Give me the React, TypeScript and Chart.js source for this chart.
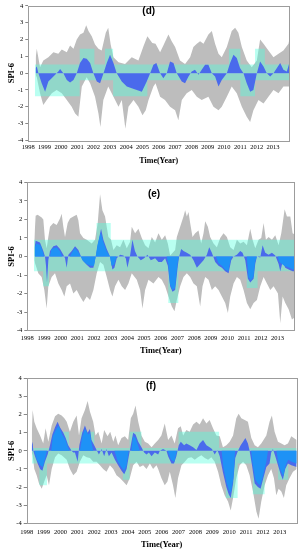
import React, { useEffect, useRef } from 'react';
import { Chart, registerables } from 'chart.js';

Chart.register(...registerables);

const SERIF = '"Liberation Serif", "Times New Roman", "DejaVu Serif", serif';
const SANS = '"Liberation Sans", Arial, sans-serif';

// x-axis tick labels (years) and y-axis ticks
const yearLabels = [1998, 1999, 2000, 2001, 2002, 2003, 2004, 2005, 2006, 2007, 2008, 2009, 2010, 2011, 2012, 2013];
const spiTicks = [-4, -3, -2, -1, 0, 1, 2, 3, 4];

type Pair = [number, number];
type Step = [number, number, number];

// ---------- panel (d) ----------
const dUpper: Pair[] = [
  [1998.45, 0.9], [1998.52, 1.45], [1998.72, 0.35], [1998.92, 0.75], [1999.23, 0.95], [1999.54, 1.25], [1999.84, 1.15],
  [2000.05, 1.4], [2000.36, 1.25], [2000.56, 1.65], [2000.77, 1.45], [2000.97, 2.0], [2001.17, 2.3], [2001.38, 2.4],
  [2001.55, 2.85], [2001.69, 2.5], [2001.89, 2.2], [2002.09, 1.7], [2002.3, 1.45], [2002.5, 1.35], [2002.75, 2.4],
  [2002.9, 2.7], [2003.05, 1.7], [2003.22, 0.95], [2003.53, 0.65], [2003.93, 0.55], [2004.34, 0.95], [2004.75, 0.75],
  [2005.06, 1.6], [2005.3, 2.2], [2005.6, 1.8], [2005.8, 1.75], [2006.08, 1.25], [2006.28, 1.65], [2006.59, 2.3],
  [2006.79, 1.9], [2007.0, 1.55], [2007.3, 0.75], [2007.61, 0.55], [2007.92, 0.95], [2008.12, 1.55], [2008.33, 1.75],
  [2008.53, 1.9], [2008.74, 1.75], [2009.04, 2.3], [2009.25, 2.5], [2009.45, 1.75], [2009.66, 1.15], [2009.86, 0.95],
  [2010.17, 1.55], [2010.47, 2.5], [2010.68, 2.7], [2010.88, 2.4], [2011.09, 1.55], [2011.39, 0.75], [2011.7, 0.35],
  [2012.01, 0.75], [2012.21, 2.0], [2012.42, 1.75], [2012.72, 1.35], [2013.03, 0.95], [2013.34, 1.15], [2013.64, 1.35],
  [2013.95, 1.75], [2014.0, 2.0],
];
const dLower: Pair[] = [
  [1998.45, -0.1], [1998.52, -0.25], [1998.72, -1.2], [1998.92, -1.9], [1999.13, -1.6], [1999.44, -1.2], [1999.74, -1.0],
  [2000.05, -1.2], [2000.36, -1.6], [2000.66, -2.0], [2000.87, -2.4], [2001.07, -2.6], [2001.28, -0.8], [2001.58, -0.25],
  [2001.79, -0.6], [2002.09, -1.4], [2002.3, -2.4], [2002.42, -3.2], [2002.6, -1.6], [2002.9, -0.8], [2003.22, -1.4],
  [2003.53, -2.0], [2003.73, -1.6], [2003.95, -3.3], [2004.14, -2.0], [2004.45, -1.6], [2004.75, -2.0], [2005.0, -2.5],
  [2005.2, -2.2], [2005.37, -1.6], [2005.67, -0.8], [2005.8, -0.6], [2006.08, -1.4], [2006.38, -1.6], [2006.69, -2.0],
  [2007.0, -2.2], [2007.2, -2.8], [2007.41, -1.6], [2007.71, -1.2], [2008.02, -1.0], [2008.33, -1.4], [2008.63, -1.6],
  [2009.04, -1.4], [2009.35, -2.0], [2009.66, -2.2], [2009.86, -2.0], [2010.17, -1.4], [2010.47, -0.8], [2010.78, -1.2],
  [2011.09, -2.0], [2011.39, -2.6], [2011.6, -2.9], [2011.8, -2.2], [2012.11, -1.6], [2012.42, -1.8], [2012.72, -1.4],
  [2013.03, -1.0], [2013.34, -1.2], [2013.64, -0.8], [2014.0, -0.8],
];
const dBlue: Pair[] = [
  [1998.45, 0.3], [1998.52, 0.4], [1998.62, 0], [1998.82, -0.6], [1999.03, -1.1], [1999.23, -0.5], [1999.54, -0.2],
  [1999.84, 0.1], [1999.95, 0.25], [2000.15, 0], [2000.36, -0.4], [2000.56, -0.55], [2000.77, -0.4], [2000.97, 0],
  [2001.17, 0.6], [2001.38, 0.9], [2001.58, 0.85], [2001.79, 0.6], [2001.99, 0], [2002.2, -0.5], [2002.4, -0.6],
  [2002.61, 0], [2002.81, 0.6], [2003.01, 1.1], [2003.22, 0.6], [2003.42, 0], [2003.73, -0.5], [2004.04, -0.8],
  [2004.34, -0.9], [2004.65, -1.0], [2004.96, -1.1], [2005.26, -0.5], [2005.47, 0], [2005.67, 0.5], [2005.85, 0.6],
  [2006.08, 0], [2006.28, -0.3], [2006.49, 0], [2006.69, 0.7], [2006.9, 0.6], [2007.1, 0], [2007.41, -0.5],
  [2007.61, -0.6], [2007.82, -0.2], [2008.02, 0.1], [2008.22, 0.2], [2008.43, -0.1], [2008.63, 0.2], [2008.84, 0.5],
  [2009.04, 0.5], [2009.25, 0], [2009.45, -0.2], [2009.66, -0.8], [2009.86, -0.4], [2010.17, 0], [2010.37, 0.6],
  [2010.58, 1.1], [2010.78, 0.9], [2010.98, 0.3], [2011.19, 0], [2011.39, -0.6], [2011.6, -1.1], [2011.8, -1.0],
  [2012.01, 0], [2012.21, 0.7], [2012.42, 0.4], [2012.62, 0], [2012.83, -0.2], [2013.03, 0], [2013.24, 0.3],
  [2013.44, 0.6], [2013.64, 0.2], [2013.85, 0.1], [2014.0, 0.6],
];
// [start year, band top, band bottom]
const dCyan: Step[] = [
  [1998.4, 0.52, -1.37], [2001.15, 1.45, -0.42], [2002.05, 0.52, -0.42], [2002.7, 1.45, -0.42], [2003.2, 0.52, -1.37],
  [2005.3, 0.52, -0.42], [2010.3, 1.45, -0.42], [2011.0, 0.52, -1.37], [2011.9, 1.45, -0.42], [2012.5, 0.52, -0.42],
  [2014.0, 0.52, -0.42],
];

// ---------- panel (e) ----------
const eUpper: Pair[] = [
  [1998.42, 0.9], [1998.5, 2.2], [1998.62, 2.25], [1998.86, 2.1], [1998.96, 2.0], [1999.06, 0.9], [1999.16, 0.45],
  [1999.26, 1.05], [1999.36, 1.6], [1999.56, 1.8], [1999.76, 1.7], [1999.96, 2.05], [2000.06, 2.3], [2000.16, 1.6],
  [2000.26, 1.05], [2000.42, 1.8], [2000.56, 2.05], [2000.76, 2.15], [2000.96, 2.25], [2001.06, 1.95], [2001.16, 1.25],
  [2001.36, 1.0], [2001.56, 0.9], [2001.86, 0.7], [2002.06, 0.9], [2002.22, 1.8], [2002.36, 3.35], [2002.5, 2.5],
  [2002.66, 2.15], [2002.86, 1.05], [2003.02, 0.9], [2003.16, 0.35], [2003.36, 0.6], [2003.56, 0.5], [2003.76, 0.9],
  [2003.96, 0.45], [2004.16, 0.8], [2004.26, 1.6], [2004.46, 1.25], [2004.66, 1.5], [2004.86, 1.0], [2005.06, 0.6],
  [2005.26, 0.45], [2005.46, 1.05], [2005.66, 0.75], [2005.86, 1.25], [2006.06, 0.9], [2006.26, 1.15], [2006.42, 0.7],
  [2006.56, 0.05], [2006.86, 0.35], [2006.96, 1.05], [2007.16, 1.6], [2007.36, 2.15], [2007.46, 2.5], [2007.56, 2.15],
  [2007.66, 2.4], [2007.76, 1.8], [2007.9, 1.05], [2008.06, 1.25], [2008.26, 1.4], [2008.42, 0.7], [2008.56, 1.25],
  [2008.66, 1.9], [2008.82, 1.6], [2008.96, 1.05], [2009.16, 0.7], [2009.36, 0.5], [2009.56, 1.0], [2009.76, 1.25],
  [2009.96, 1.05], [2010.16, 0.5], [2010.36, 0.35], [2010.56, 0.9], [2010.76, 0.7], [2010.96, 0.8], [2011.16, 0.6],
  [2011.36, 1.5], [2011.5, 0.9], [2011.66, 0.45], [2011.86, 0.9], [2012.02, 1.0], [2012.16, 1.8], [2012.3, 0.9],
  [2012.46, 1.05], [2012.66, 0.9], [2012.86, 1.15], [2013.06, 0.6], [2013.22, 1.25], [2013.42, 2.55], [2013.56, 2.15],
  [2013.76, 2.15], [2013.9, 1.25], [2014.0, 1.2],
];
const eLower: Pair[] = [
  [1998.42, -0.2], [1998.46, -0.35], [1998.66, -0.9], [1998.86, -1.1], [1999.02, -1.8], [1999.16, -2.8], [1999.26, -1.6],
  [1999.46, -1.1], [1999.66, -0.9], [1999.86, -1.45], [2000.06, -1.8], [2000.22, -2.15], [2000.36, -1.6], [2000.56, -1.45],
  [2000.76, -2.0], [2000.96, -1.8], [2001.16, -2.15], [2001.36, -2.45], [2001.56, -2.15], [2001.76, -2.35], [2001.96, -1.8],
  [2002.16, -0.9], [2002.36, -0.3], [2002.56, -0.45], [2002.76, -1.1], [2002.96, -1.8], [2003.1, -2.15], [2003.26, -1.6],
  [2003.46, -1.25], [2003.66, -1.6], [2003.86, -1.8], [2004.06, -1.45], [2004.26, -0.9], [2004.56, -1.25], [2004.76, -1.8],
  [2004.9, -2.8], [2005.06, -1.8], [2005.26, -1.25], [2005.56, -1.45], [2005.86, -1.1], [2006.06, -1.25], [2006.26, -1.6],
  [2006.46, -2.15], [2006.66, -2.7], [2006.82, -2.95], [2006.96, -2.35], [2007.16, -1.6], [2007.36, -1.1], [2007.56, -0.9],
  [2007.76, -1.1], [2007.96, -1.45], [2008.16, -1.6], [2008.36, -2.7], [2008.5, -1.6], [2008.66, -1.1], [2008.86, -1.25],
  [2009.06, -1.8], [2009.26, -1.6], [2009.46, -1.8], [2009.66, -2.15], [2009.86, -2.5], [2010.02, -3.05], [2010.16, -2.15],
  [2010.36, -1.45], [2010.56, -1.1], [2010.76, -1.25], [2010.96, -1.8], [2011.16, -2.5], [2011.36, -2.85], [2011.56, -2.5],
  [2011.76, -2.35], [2011.96, -1.6], [2012.16, -1.1], [2012.36, -1.45], [2012.56, -1.8], [2012.76, -1.6], [2013.02, -2.0],
  [2013.16, -3.6], [2013.3, -2.15], [2013.46, -2.5], [2013.66, -2.85], [2013.86, -3.4], [2014.0, -3.3],
];
const eBlue: Pair[] = [
  [1998.44, 0.5], [1998.5, 0.85], [1998.76, 0.75], [1998.96, 0.3], [1999.06, 0], [1999.12, -0.5], [1999.18, -1.4],
  [1999.26, -0.2], [1999.36, 0.3], [1999.56, 0.55], [1999.76, 0.6], [1999.96, 0.4], [2000.16, 0.1], [2000.26, -0.1],
  [2000.36, -0.6], [2000.46, 0.1], [2000.66, 0.3], [2000.86, 0.55], [2001.06, 0.35], [2001.22, 0], [2001.36, -0.25],
  [2001.56, -0.45], [2001.76, -0.6], [2001.96, -0.6], [2002.1, 0], [2002.26, 0.8], [2002.42, 1.5], [2002.56, 0.9],
  [2002.76, 0.4], [2002.96, 0], [2003.1, -0.7], [2003.22, -0.6], [2003.36, -0.1], [2003.56, 0.1], [2003.76, 0.05],
  [2003.9, -0.1], [2004.0, -0.6], [2004.15, 0], [2004.3, 0.9], [2004.45, 0.3], [2004.6, 0], [2004.8, -0.2],
  [2005.0, -0.1], [2005.2, 0.1], [2005.4, -0.2], [2005.66, -0.1], [2005.86, -0.3], [2006.06, -0.3], [2006.26, -0.1],
  [2006.42, -0.5], [2006.56, -1.6], [2006.7, -1.9], [2006.86, -1.8], [2007.02, -0.5], [2007.1, 0], [2007.22, 0.4],
  [2007.36, 0.3], [2007.56, 0.2], [2007.76, 0.1], [2007.96, -0.2], [2008.16, -0.6], [2008.36, -0.4], [2008.56, -0.2],
  [2008.76, 0.1], [2008.9, 0.5], [2009.06, 0.2], [2009.26, -0.3], [2009.46, -0.5], [2009.66, -0.6], [2009.86, -0.8],
  [2010.06, -0.9], [2010.22, -0.2], [2010.36, 0], [2010.56, 0.1], [2010.76, 0.3], [2010.9, 0.2], [2011.06, -0.2],
  [2011.22, -1.2], [2011.36, -1.4], [2011.56, -1.2], [2011.66, -0.4], [2011.76, 0], [2011.96, -0.05], [2012.1, 0.6],
  [2012.26, 0.2], [2012.46, 0.1], [2012.66, 0.2], [2012.86, 0.05], [2013.06, -0.4], [2013.16, -0.8], [2013.3, -0.3],
  [2013.46, -0.6], [2013.66, -0.7], [2013.9, -0.8], [2014.0, -0.8],
];
const eAzure: Pair[] = [
  [1998.45, 0.5], [1998.55, 0.7], [1998.8, 0.6], [1998.95, 0.2], [1999.0, 0], [1999.35, 0], [1999.45, 0.4],
  [1999.75, 0.5], [1999.95, 0.3], [2000.1, 0], [2000.55, 0], [2000.7, 0.25], [2000.85, 0.45], [2001.05, 0.25],
  [2001.2, 0], [2001.3, -0.2], [2001.55, -0.4], [2001.8, -0.5], [2002.0, -0.5], [2002.1, 0], [2002.2, 0.6],
  [2002.4, 1.3], [2002.55, 0.8], [2002.75, 0.3], [2002.95, 0], [2003.05, -0.5], [2003.2, -0.45], [2003.35, 0],
  [2006.35, 0], [2006.45, -0.4], [2006.55, -1.5], [2006.7, -1.8], [2006.85, -1.7], [2007.0, -0.4], [2007.08, 0],
  [2009.3, 0], [2009.45, -0.35], [2009.65, -0.5], [2009.85, -0.7], [2010.05, -0.8], [2010.2, -0.1], [2010.3, 0],
  [2011.15, 0], [2011.25, -1.1], [2011.4, -1.3], [2011.55, -1.1], [2011.65, -0.3], [2011.75, 0], [2013.0, 0],
  [2013.1, -0.3], [2013.4, -0.5], [2013.7, -0.6], [2013.9, -0.7], [2014.0, -0.7],
];
const eCyan: Step[] = [
  [1998.4, 0.9, -0.8], [1998.95, 0.9, -1.6], [1999.3, 0.9, -0.8], [2002.15, 1.8, -0.8], [2003.0, 0.9, -0.8],
  [2006.45, 0.9, -2.5], [2007.05, 0.9, -0.8], [2011.15, 0.9, -1.7], [2011.8, 0.9, -0.8], [2014.0, 0.9, -0.8],
];

// ---------- panel (f) ----------
const fUpper: Pair[] = [
  [1998.3, 0.8], [1998.35, 2.25], [1998.45, 1.6], [1998.59, 1.25], [1998.79, 0.85], [1998.98, 0.4], [1999.12, 1.25],
  [1999.28, 0.5], [1999.48, 1.4], [1999.68, 1.9], [1999.87, 2.05], [2000.07, 1.95], [2000.23, 1.8], [2000.37, 1.6],
  [2000.56, 1.05], [2000.76, 1.6], [2000.96, 1.95], [2001.1, 0.85], [2001.25, 1.8], [2001.45, 2.25], [2001.61, 2.75],
  [2001.75, 2.15], [2001.94, 1.6], [2002.08, 0.85], [2002.24, 1.05], [2002.44, 0.4], [2002.59, 1.15], [2002.79, 0.8],
  [2002.95, 1.05], [2003.13, 0.5], [2003.26, 0.85], [2003.42, 0.3], [2003.62, 0.7], [2003.82, 0.8], [2004.01, 0.6],
  [2004.17, 1.8], [2004.31, 2.05], [2004.45, 2.5], [2004.61, 1.6], [2004.8, 0.85], [2005.0, 0.5], [2005.2, 0.4],
  [2005.4, 0.2], [2005.59, 0.4], [2005.79, 0.6], [2005.98, 0.85], [2006.18, 1.5], [2006.38, 0.6], [2006.58, 0.85],
  [2006.77, 0.4], [2006.97, 1.25], [2007.13, 1.35], [2007.27, 0.85], [2007.46, 1.15], [2007.66, 1.05], [2007.86, 1.45],
  [2008.06, 1.6], [2008.25, 1.45], [2008.45, 1.8], [2008.65, 1.5], [2008.84, 1.7], [2009.04, 1.25], [2009.24, 0.85],
  [2009.44, 0.8], [2009.63, 0.2], [2009.83, 0.3], [2010.03, 0.5], [2010.23, 0.85], [2010.42, 1.8], [2010.56, 2.05],
  [2010.72, 1.8], [2010.92, 1.7], [2011.11, 1.6], [2011.31, 0.7], [2011.51, 0.3], [2011.7, 0.2], [2011.9, 0.4],
  [2012.2, 0.85], [2012.39, 1.6], [2012.53, 1.95], [2012.69, 1.05], [2012.89, 0.5], [2013.09, 0.4], [2013.28, 0.3],
  [2013.48, 0.4], [2013.68, 0.8], [2014.0, 0.6],
];
const fLower: Pair[] = [
  [1998.3, -0.1], [1998.35, -0.25], [1998.45, -1.0], [1998.59, -1.35], [1998.73, -1.8], [1998.89, -2.1], [1999.04, -1.7],
  [1999.18, -1.35], [1999.32, -1.9], [1999.48, -1.0], [1999.68, -0.35], [1999.87, -0.15], [2000.07, -0.25], [2000.37, -0.5],
  [2000.56, -1.0], [2000.76, -1.35], [2000.96, -1.15], [2001.15, -0.6], [2001.35, -0.25], [2001.55, -0.35], [2001.75, -0.4],
  [2001.94, -0.6], [2002.14, -0.6], [2002.34, -0.8], [2002.53, -1.0], [2002.73, -1.15], [2002.93, -0.8], [2003.13, -1.0],
  [2003.32, -1.35], [2003.52, -1.5], [2003.72, -1.7], [2003.92, -1.9], [2004.11, -1.5], [2004.31, -0.8], [2004.51, -0.6],
  [2004.7, -0.9], [2004.9, -0.8], [2005.1, -1.0], [2005.3, -0.7], [2005.49, -1.0], [2005.69, -0.8], [2005.79, -1.0],
  [2005.98, -1.5], [2006.18, -1.9], [2006.34, -1.7], [2006.48, -1.15], [2006.67, -1.9], [2006.81, -2.6], [2006.97, -1.5],
  [2007.17, -0.8], [2007.37, -0.6], [2007.56, -0.4], [2007.76, -0.35], [2007.96, -0.5], [2008.15, -0.35], [2008.35, -0.25],
  [2008.55, -0.4], [2008.75, -0.5], [2008.94, -0.35], [2009.14, -0.6], [2009.34, -1.15], [2009.53, -1.9], [2009.73, -2.45],
  [2009.93, -2.8], [2010.09, -3.3], [2010.23, -2.6], [2010.42, -1.5], [2010.62, -0.8], [2010.82, -0.6], [2011.01, -0.8],
  [2011.21, -1.35], [2011.41, -2.25], [2011.61, -3.35], [2011.74, -3.75], [2011.9, -2.8], [2012.1, -1.9], [2012.3, -1.35],
  [2012.49, -1.0], [2012.65, -1.5], [2012.79, -2.45], [2012.93, -2.1], [2013.09, -2.25], [2013.24, -2.6], [2013.38, -1.9],
  [2013.58, -1.5], [2013.78, -1.15], [2014.0, -1.0],
];
const fBlue: Pair[] = [
  [1998.3, 0.3], [1998.35, 0.5], [1998.39, 0], [1998.49, -0.3], [1998.65, -0.7], [1998.79, -1.0], [1998.93, -1.1],
  [1999.08, -0.6], [1999.24, -0.2], [1999.38, 0.3], [1999.52, 0.9], [1999.68, 1.3], [1999.83, 1.6], [1999.97, 1.3],
  [2000.17, 1.0], [2000.31, 0.7], [2000.46, 0.3], [2000.66, 0], [2000.76, -0.1], [2000.86, -0.1], [2001.02, -0.6],
  [2001.12, 0.3], [2001.29, 1.0], [2001.45, 1.4], [2001.61, 1.0], [2001.75, 1.2], [2001.84, 0.6], [2002.0, 0.3],
  [2002.14, 0.05], [2002.28, -0.2], [2002.44, 0.1], [2002.59, -0.3], [2002.73, 0.1], [2002.87, -0.3], [2003.03, -0.1],
  [2003.23, -0.5], [2003.42, -0.8], [2003.62, -1.1], [2003.78, -1.3], [2003.92, -1.0], [2004.05, -0.3], [2004.17, 0.3],
  [2004.31, 1.0], [2004.45, 0.9], [2004.61, 0.5], [2004.8, 0.2], [2004.96, -0.1], [2005.1, -0.2], [2005.24, -0.1],
  [2005.4, -0.3], [2005.59, -0.1], [2005.79, -0.2], [2005.89, 0], [2006.08, 0.1], [2006.28, 0], [2006.38, -0.3],
  [2006.58, -0.7], [2006.73, -0.7], [2006.87, -0.3], [2007.01, 0.3], [2007.13, 0.5], [2007.33, 0.3], [2007.46, 0.4],
  [2007.66, 0.3], [2007.86, 0.2], [2008.06, 0.05], [2008.25, 0.4], [2008.45, 0.6], [2008.65, 0.3], [2008.84, 0.2],
  [2008.98, 0.1], [2009.14, -0.2], [2009.3, 0.05], [2009.44, -0.3], [2009.63, -1.2], [2009.83, -2.0], [2009.97, -2.4],
  [2010.09, -2.6], [2010.23, -1.8], [2010.36, -0.4], [2010.52, 0], [2010.68, 0.3], [2010.82, 0.5], [2010.96, 0.7],
  [2011.11, 0.4], [2011.21, 0], [2011.35, -0.8], [2011.51, -1.8], [2011.7, -2.0], [2011.86, -2.1], [2012.0, -1.6],
  [2012.2, -0.9], [2012.39, -0.7], [2012.49, -0.1], [2012.59, 0.1], [2012.73, -0.3], [2012.89, -0.8], [2013.05, -1.3],
  [2013.18, -1.6], [2013.32, -1.0], [2013.48, -0.7], [2013.68, -0.8], [2014.0, -0.9],
];
const fAzure: Pair[] = [
  [1998.45, 0], [1998.6, -0.5], [1998.8, -0.8], [1998.95, -0.9], [1999.1, -0.4], [1999.2, 0], [1999.45, 0],
  [1999.55, 0.8], [1999.75, 1.2], [1999.9, 1.4], [2000.1, 0.9], [2000.3, 0.6], [2000.45, 0.2], [2000.55, 0],
  [2001.15, 0], [2001.3, 0.8], [2001.45, 1.2], [2001.65, 0.9], [2001.75, 1.0], [2001.85, 0.4], [2001.95, 0],
  [2003.2, 0], [2003.4, -0.6], [2003.6, -0.9], [2003.78, -1.1], [2003.92, -0.8], [2004.05, 0], [2004.2, 0],
  [2004.3, 0.8], [2004.45, 0.7], [2004.6, 0.3], [2004.7, 0], [2006.35, 0], [2006.55, -0.5], [2006.75, -0.6],
  [2006.9, 0], [2009.55, 0], [2009.65, -0.9], [2009.85, -1.8], [2010.0, -2.2], [2010.1, -2.3], [2010.25, -1.5],
  [2010.35, 0], [2011.3, 0], [2011.4, -0.8], [2011.55, -1.6], [2011.7, -1.8], [2011.85, -1.9], [2012.0, -1.4],
  [2012.2, -0.6], [2012.3, 0], [2012.8, 0], [2012.9, -0.6], [2013.05, -1.1], [2013.2, -1.4], [2013.35, -0.8],
  [2013.5, -0.5], [2013.7, -0.6], [2014.0, -0.7],
];
const fCyan: Step[] = [
  [1998.3, 0.15, -0.7], [1998.75, 0.15, -1.9], [1999.2, 0.15, -0.7], [1999.6, 1.05, -0.7], [2000.5, 0.15, -0.7],
  [2001.2, 1.05, -0.7], [2002.0, 0.15, -0.7], [2003.7, 0.15, -1.6], [2004.1, 1.05, -0.7], [2004.8, 0.15, -0.7],
  [2007.0, 1.05, -0.7], [2009.4, 0.15, -0.7], [2009.8, 0.15, -2.6], [2010.5, 0.15, -0.7], [2011.4, 0.15, -2.4],
  [2012.1, 0.15, -0.7], [2012.9, 0.15, -1.6], [2013.5, 0.15, -0.7], [2014.0, 0.15, -0.7],
];

const GREY = '#bdbdbd';
const CYAN = 'rgba(80,255,220,0.4)';
const ROYAL = '#4a6aec';
const AZURE = '#1e92f6';

interface PanelProps {
  tag: string;
  upper: Pair[];
  lower: Pair[];
  blue: Pair[];
  azure?: Pair[];
  cyan: Step[];
  top: number;
  height: number;
  padTop: number;
  padRight: number;
  yWidth: number;
  xHeight: number;
  tagX: number;
  tagY: number;
  tickPad: number;
  xTitleSize: number;
}

const toPts = (arr: Pair[]) => arr.map(([x, y]) => ({ x, y }));

function area(data: { x: number; y: number }[], color: string, stepped = false) {
  return {
    data,
    backgroundColor: color,
    borderColor: 'rgba(0,0,0,0)',
    borderWidth: 0,
    pointRadius: 0,
    pointHoverRadius: 0,
    fill: 'origin',
    stepped,
    tension: 0,
  };
}

function Panel(p: PanelProps) {
  const ref = useRef<HTMLCanvasElement>(null);
  useEffect(() => {
    const canvas = ref.current;
    if (!canvas) return;
    const datasets: any[] = [];
    if (p.azure) datasets.push(area(toPts(p.azure), AZURE));
    datasets.push(area(toPts(p.blue), ROYAL));
    datasets.push(area(p.cyan.map(([x, t]) => ({ x, y: t })), CYAN, true));
    datasets.push(area(p.cyan.map(([x, , b]) => ({ x, y: b })), CYAN, true));
    datasets.push(area(toPts(p.upper), GREY));
    datasets.push(area(toPts(p.lower), GREY));

    const frame = {
      id: 'frame',
      afterDatasetsDraw(chart: any) {
        const { ctx, chartArea: a } = chart;
        ctx.save();
        ctx.strokeStyle = '#9c9c9c';
        ctx.lineWidth = 1;
        ctx.strokeRect(Math.round(a.left) + 0.5, Math.round(a.top) + 0.5, Math.round(a.right - a.left), Math.round(a.bottom - a.top));
        ctx.restore();
      },
    };
    const tagPlugin = {
      id: 'tag',
      afterDraw(chart: any) {
        const { ctx } = chart;
        ctx.save();
        ctx.font = `bold 10px ${SANS}`;
        ctx.fillStyle = '#000';
        ctx.textAlign = 'center';
        ctx.textBaseline = 'middle';
        ctx.fillText(p.tag, p.tagX, p.tagY);
        ctx.restore();
      },
    };

    const chart = new Chart(canvas, {
      type: 'line',
      data: { datasets },
      options: {
        animation: false,
        responsive: false,
        devicePixelRatio: 1,
        events: [],
        layout: { padding: { top: p.padTop, right: p.padRight, left: 0, bottom: 0 } },
        plugins: { legend: { display: false }, tooltip: { enabled: false } },
        scales: {
          x: {
            type: 'linear',
            min: 1998,
            max: 2014,
            afterFit: (s: any) => { s.height = p.xHeight; },
            afterBuildTicks: (s: any) => { s.ticks = yearLabels.map((v) => ({ value: v })); },
            ticks: {
              autoSkip: false,
              maxRotation: 0,
              padding: p.tickPad,
              color: '#000',
              font: { family: SERIF, size: 6.5 },
              callback: (v: any) => String(v),
            },
            grid: { display: false, drawTicks: false },
            border: { display: false },
            title: {
              display: true,
              text: 'Time(Year)',
              color: '#000',
              font: { family: SERIF, size: p.xTitleSize, weight: 'bold' },
              padding: { top: 0, bottom: 0.5 },
            },
          },
          y: {
            type: 'linear',
            min: -4,
            max: 4,
            afterFit: (s: any) => { s.width = p.yWidth; },
            afterBuildTicks: (s: any) => { s.ticks = spiTicks.map((v) => ({ value: v })); },
            ticks: {
              padding: 2,
              color: '#000',
              font: { family: SERIF, size: 6.5 },
              callback: (v: any) => String(v),
            },
            grid: { drawOnChartArea: false, drawTicks: true, tickLength: 3, color: '#888' },
            border: { display: false },
            title: {
              display: true,
              text: 'SPI-6',
              color: '#000',
              font: { family: SERIF, size: 8.5, weight: 'bold' },
              padding: { top: 6.5, bottom: 0 },
            },
          },
        },
      } as any,
      plugins: [frame, tagPlugin],
    });
    return () => chart.destroy();
  }, []);
  return (
    <canvas
      ref={ref}
      width={300}
      height={p.height}
      style={{ position: 'absolute', left: 0, top: p.top, width: 300, height: p.height, display: 'block' }}
    />
  );
}

export default function App() {
  return (
    <div style={{ position: 'absolute', left: 0, top: 0, width: 300, height: 550, background: '#fff', overflow: 'hidden' }}>
      <Panel tag="(d)" upper={dUpper} lower={dLower} blue={dBlue} cyan={dCyan}
        top={0} height={166} padTop={5.3} padRight={10.7} yWidth={28.3} xHeight={25.6}
        tagX={148.7} tagY={11} tickPad={3} xTitleSize={8} />
      <Panel tag="(e)" upper={eUpper} lower={eLower} blue={eBlue} azure={eAzure} cyan={eCyan}
        top={170} height={186} padTop={12.3} padRight={5.7} yWidth={27.3} xHeight={25.3}
        tagX={154} tagY={24} tickPad={4} xTitleSize={8.5} />
      <Panel tag="(f)" upper={fUpper} lower={fLower} blue={fBlue} azure={fAzure} cyan={fCyan}
        top={360} height={190} padTop={18.3} padRight={3.3} yWidth={26.7} xHeight={26.7}
        tagX={151} tagY={26} tickPad={5} xTitleSize={8.5} />
    </div>
  );
}
